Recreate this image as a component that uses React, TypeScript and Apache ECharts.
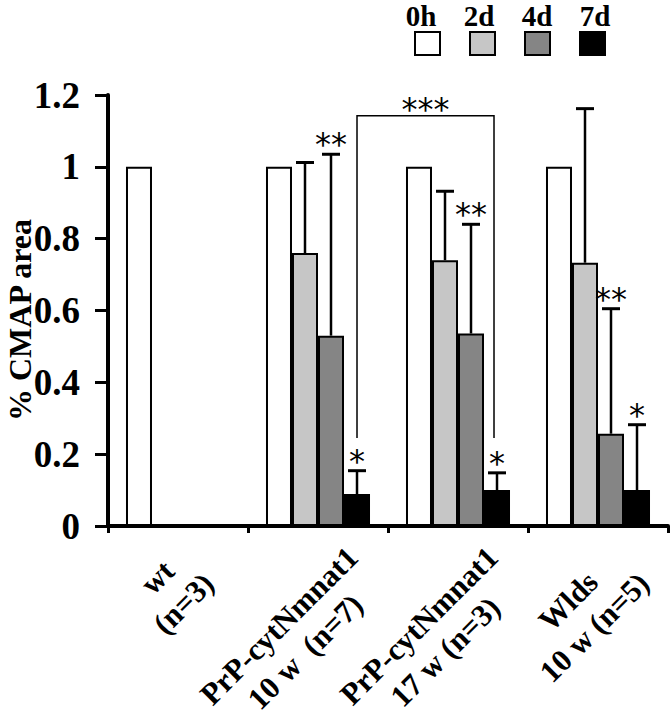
import React, { useEffect, useRef } from "react";
import * as echarts from "echarts";

const categories = [
  "wt\n(n=3)",
  "PrP-cytNmnat1\n10 w  (n=7)",
  "PrP-cytNmnat1\n17 w (n=3)",
  "Wlds\n10 w (n=5)",
];
const seriesNames = ["0h", "2d", "4d", "7d"];
const seriesColors = ["#ffffff", "#c6c6c6", "#858585", "#000000"];
const values0h = [1, 1, 1, 1];
const values2d = [null, 0.76, 0.74, 0.733];
const values4d = [null, 0.53, 0.536, 0.257];
const values7d = [null, 0.089, 0.1, 0.1];
// upper ends of the (one-sided) error bars
const errTop2d = [null, 1.012, 0.932, 1.162];
const errTop4d = [null, 1.035, 0.84, 0.605];
const errTop7d = [null, 0.154, 0.148, 0.282];
const stars4d = ["", "**", "**", "**"];
const stars7d = ["", "*", "*", "*"];
// bracket between 7d bars of category 1 and 2
const bracketFrom = 1;
const bracketTo = 2;
const bracketLevel = 1.142;
const bracketLegEnd = 0.245;
const bracketLabel = "***";
const yAxisTitle = "% CMAP area";
const yMin = 0;
const yMax = 1.2;
const yInterval = 0.2;

const CAT_GAP = 0.257;
const SERIF = "'Liberation Serif', 'Times New Roman', serif";
const STAR = "'DejaVu Sans', sans-serif";
const XFONT = 31;
const XLH = 37;
const XROT = Math.PI / 4;

export default function App() {
  const ref = useRef<HTMLDivElement>(null);
  useEffect(() => {
    if (!ref.current) return;
    document.body.style.margin = "0";
    const chart = echarts.init(ref.current, null, { renderer: "svg" });
    const barValues = [values0h, values2d, values4d, values7d];
    const errTops = [null, errTop2d, errTop4d, errTop7d];
    const starSets = [null, null, stars4d, stars7d];

    const errData: number[][] = [];
    const errLabels: string[] = [];
    for (let s = 1; s < 4; s++) {
      const tops = errTops[s] as (number | null)[];
      for (let c = 0; c < categories.length; c++) {
        const v = barValues[s][c];
        const t = tops[c];
        if (v == null || t == null) continue;
        errData.push([c, v, t, s]);
        const st = starSets[s] as string[] | null;
        errLabels.push(st ? st[c] : "");
      }
    }

    // measure label lines so that the two lines of each label are centred on each other
    const cvs = document.createElement("canvas");
    const ctx = cvs.getContext("2d");
    const labelWidths: number[] = categories.map((cat) => {
      let w = 0;
      if (ctx) {
        ctx.font = `bold ${XFONT}px ${SERIF}`;
        cat.split("\n").forEach((l) => {
          w = Math.max(w, ctx.measureText(l).width);
        });
      } else {
        w = 200;
      }
      return Math.ceil(w) + 2;
    });

    const barWidthOf = (api: any) => (api.size([1, 0])[0] * (1 - CAT_GAP)) / 4;

    const option: any = {
      animation: false,
      backgroundColor: "#ffffff",
      grid: { left: 108, right: 3, top: 95, bottom: 193, containLabel: false, outerBoundsMode: "none" },
      legend: {
        show: true,
        left: 409,
        top: 26,
        itemWidth: 25,
        itemHeight: 23,
        itemGap: 28,
        icon: "rect",
        formatter: () => "",
        data: seriesNames,
        selectedMode: false,
        itemStyle: { borderColor: "#000", borderWidth: 2 },
        textStyle: { fontSize: 1 },
      },
      graphic: [
        ...seriesNames.map((n, i) => ({
          type: "text",
          x: 421 + i * 58,
          y: 16,
          style: {
            text: n,
            font: `bold 29px ${SERIF}`,
            fill: "#000",
            align: "center",
            verticalAlign: "middle",
          },
        })),
        {
          type: "text",
          x: 20,
          y: 320,
          rotation: Math.PI / 2,
          style: {
            text: yAxisTitle,
            font: `bold 32px ${SERIF}`,
            fill: "#000",
            align: "center",
            verticalAlign: "middle",
          },
        },
      ],
      xAxis: {
        type: "category",
        data: categories,
        axisLine: { lineStyle: { color: "#000", width: 4 } },
        axisTick: { show: true, length: 7, lineStyle: { color: "#000", width: 3 } },
        axisLabel: { show: false },
      },
      yAxis: {
        type: "value",
        min: yMin,
        max: yMax,
        interval: yInterval,
        axisLine: { show: true, lineStyle: { color: "#000", width: 4 } },
        axisTick: { show: true, length: 13, lineStyle: { color: "#000", width: 3 } },
        splitLine: { show: false },
        axisLabel: {
          margin: 28,
          color: "#000",
          fontFamily: SERIF,
          fontWeight: "bold",
          fontSize: 37,
          formatter: (v: number) => String(Math.round(v * 10) / 10),
        },
      },
      series: [
        ...seriesNames.map((n, i) => ({
          name: n,
          type: "bar",
          data: barValues[i],
          barGap: "0%",
          barCategoryGap: CAT_GAP * 100 + "%",
          itemStyle: { color: seriesColors[i], borderColor: "#000", borderWidth: 2 },
          z: 2,
        })),
        {
          name: "error",
          type: "custom",
          data: errData,
          encode: { x: 0, y: 2 },
          z: 5,
          renderItem: (params: any, api: any) => {
            const c = api.value(0);
            const base = api.value(1);
            const top = api.value(2);
            const s = api.value(3);
            const bw = barWidthOf(api);
            const cx = api.coord([c, 0])[0] + (s - 1.5) * bw;
            const y0 = api.coord([c, base])[1];
            const y1 = api.coord([c, top])[1];
            const label = errLabels[params.dataIndex];
            const children: any[] = [
              { type: "line", shape: { x1: cx, y1: y0, x2: cx, y2: y1 }, style: { stroke: "#000", lineWidth: 2.5 } },
              { type: "line", shape: { x1: cx - 9, y1: y1, x2: cx + 9, y2: y1 }, style: { stroke: "#000", lineWidth: 3 } },
            ];
            if (label) {
              children.push({
                type: "text",
                x: cx,
                y: y1 - 10,
                style: {
                  text: label,
                  font: `32px ${STAR}`,
                  fill: "#000",
                  align: "center",
                  verticalAlign: "middle",
                },
              });
            }
            return { type: "group", children };
          },
        },
        {
          name: "bracket",
          type: "custom",
          data: [[bracketFrom, bracketTo, bracketLevel, bracketLegEnd]],
          encode: { x: 0, y: 2 },
          z: 5,
          renderItem: (params: any, api: any) => {
            const bw = barWidthOf(api);
            const xl = api.coord([api.value(0), 0])[0] + 1.5 * bw;
            const xr = api.coord([api.value(1), 0])[0] + 1.5 * bw - 3;
            const yt = api.coord([0, api.value(2)])[1];
            const yb = api.coord([0, api.value(3)])[1];
            return {
              type: "group",
              children: [
                {
                  type: "polyline",
                  shape: { points: [[xl, yb], [xl, yt], [xr, yt], [xr, yb]] },
                  style: { stroke: "#000", lineWidth: 1.5, fill: "none" },
                },
                {
                  type: "text",
                  x: (xl + xr) / 2,
                  y: yt - 7,
                  style: {
                    text: bracketLabel,
                    font: `32px ${STAR}`,
                    fill: "#000",
                    align: "center",
                    verticalAlign: "middle",
                  },
                },
              ],
            };
          },
        },
        {
          // category labels, rotated 45°, the two lines centred on each other
          name: "categoryLabels",
          type: "custom",
          data: categories.map((_, i) => [i, 0]),
          encode: { x: 0, y: 1 },
          clip: false,
          silent: true,
          z: 6,
          renderItem: (params: any, api: any) => {
            const i = api.value(0);
            const p = api.coord([i, 0]);
            const W = labelWidths[i];
            const tx = p[0] + 0.22 * W - 24;
            const ty = p[1] + 12;
            const key = "c" + i;
            return {
              type: "text",
              x: tx,
              y: ty,
              rotation: XROT,
              style: {
                text: categories[i]
                  .split("\n")
                  .map((l) => `{${key}|${l}}`)
                  .join("\n"),
                align: "right",
                verticalAlign: "top",
                fill: "#000",
                font: `bold ${XFONT}px ${SERIF}`,
                rich: {
                  [key]: {
                    width: W,
                    align: "center",
                    fontSize: XFONT,
                    fontFamily: SERIF,
                    fontWeight: "bold",
                    lineHeight: XLH,
                    fill: "#000",
                  },
                },
              },
            };
          },
        },
      ],
    };
    chart.setOption(option);
    return () => chart.dispose();
  }, []);
  return <div ref={ref} style={{ width: 671, height: 719 }} />;
}
